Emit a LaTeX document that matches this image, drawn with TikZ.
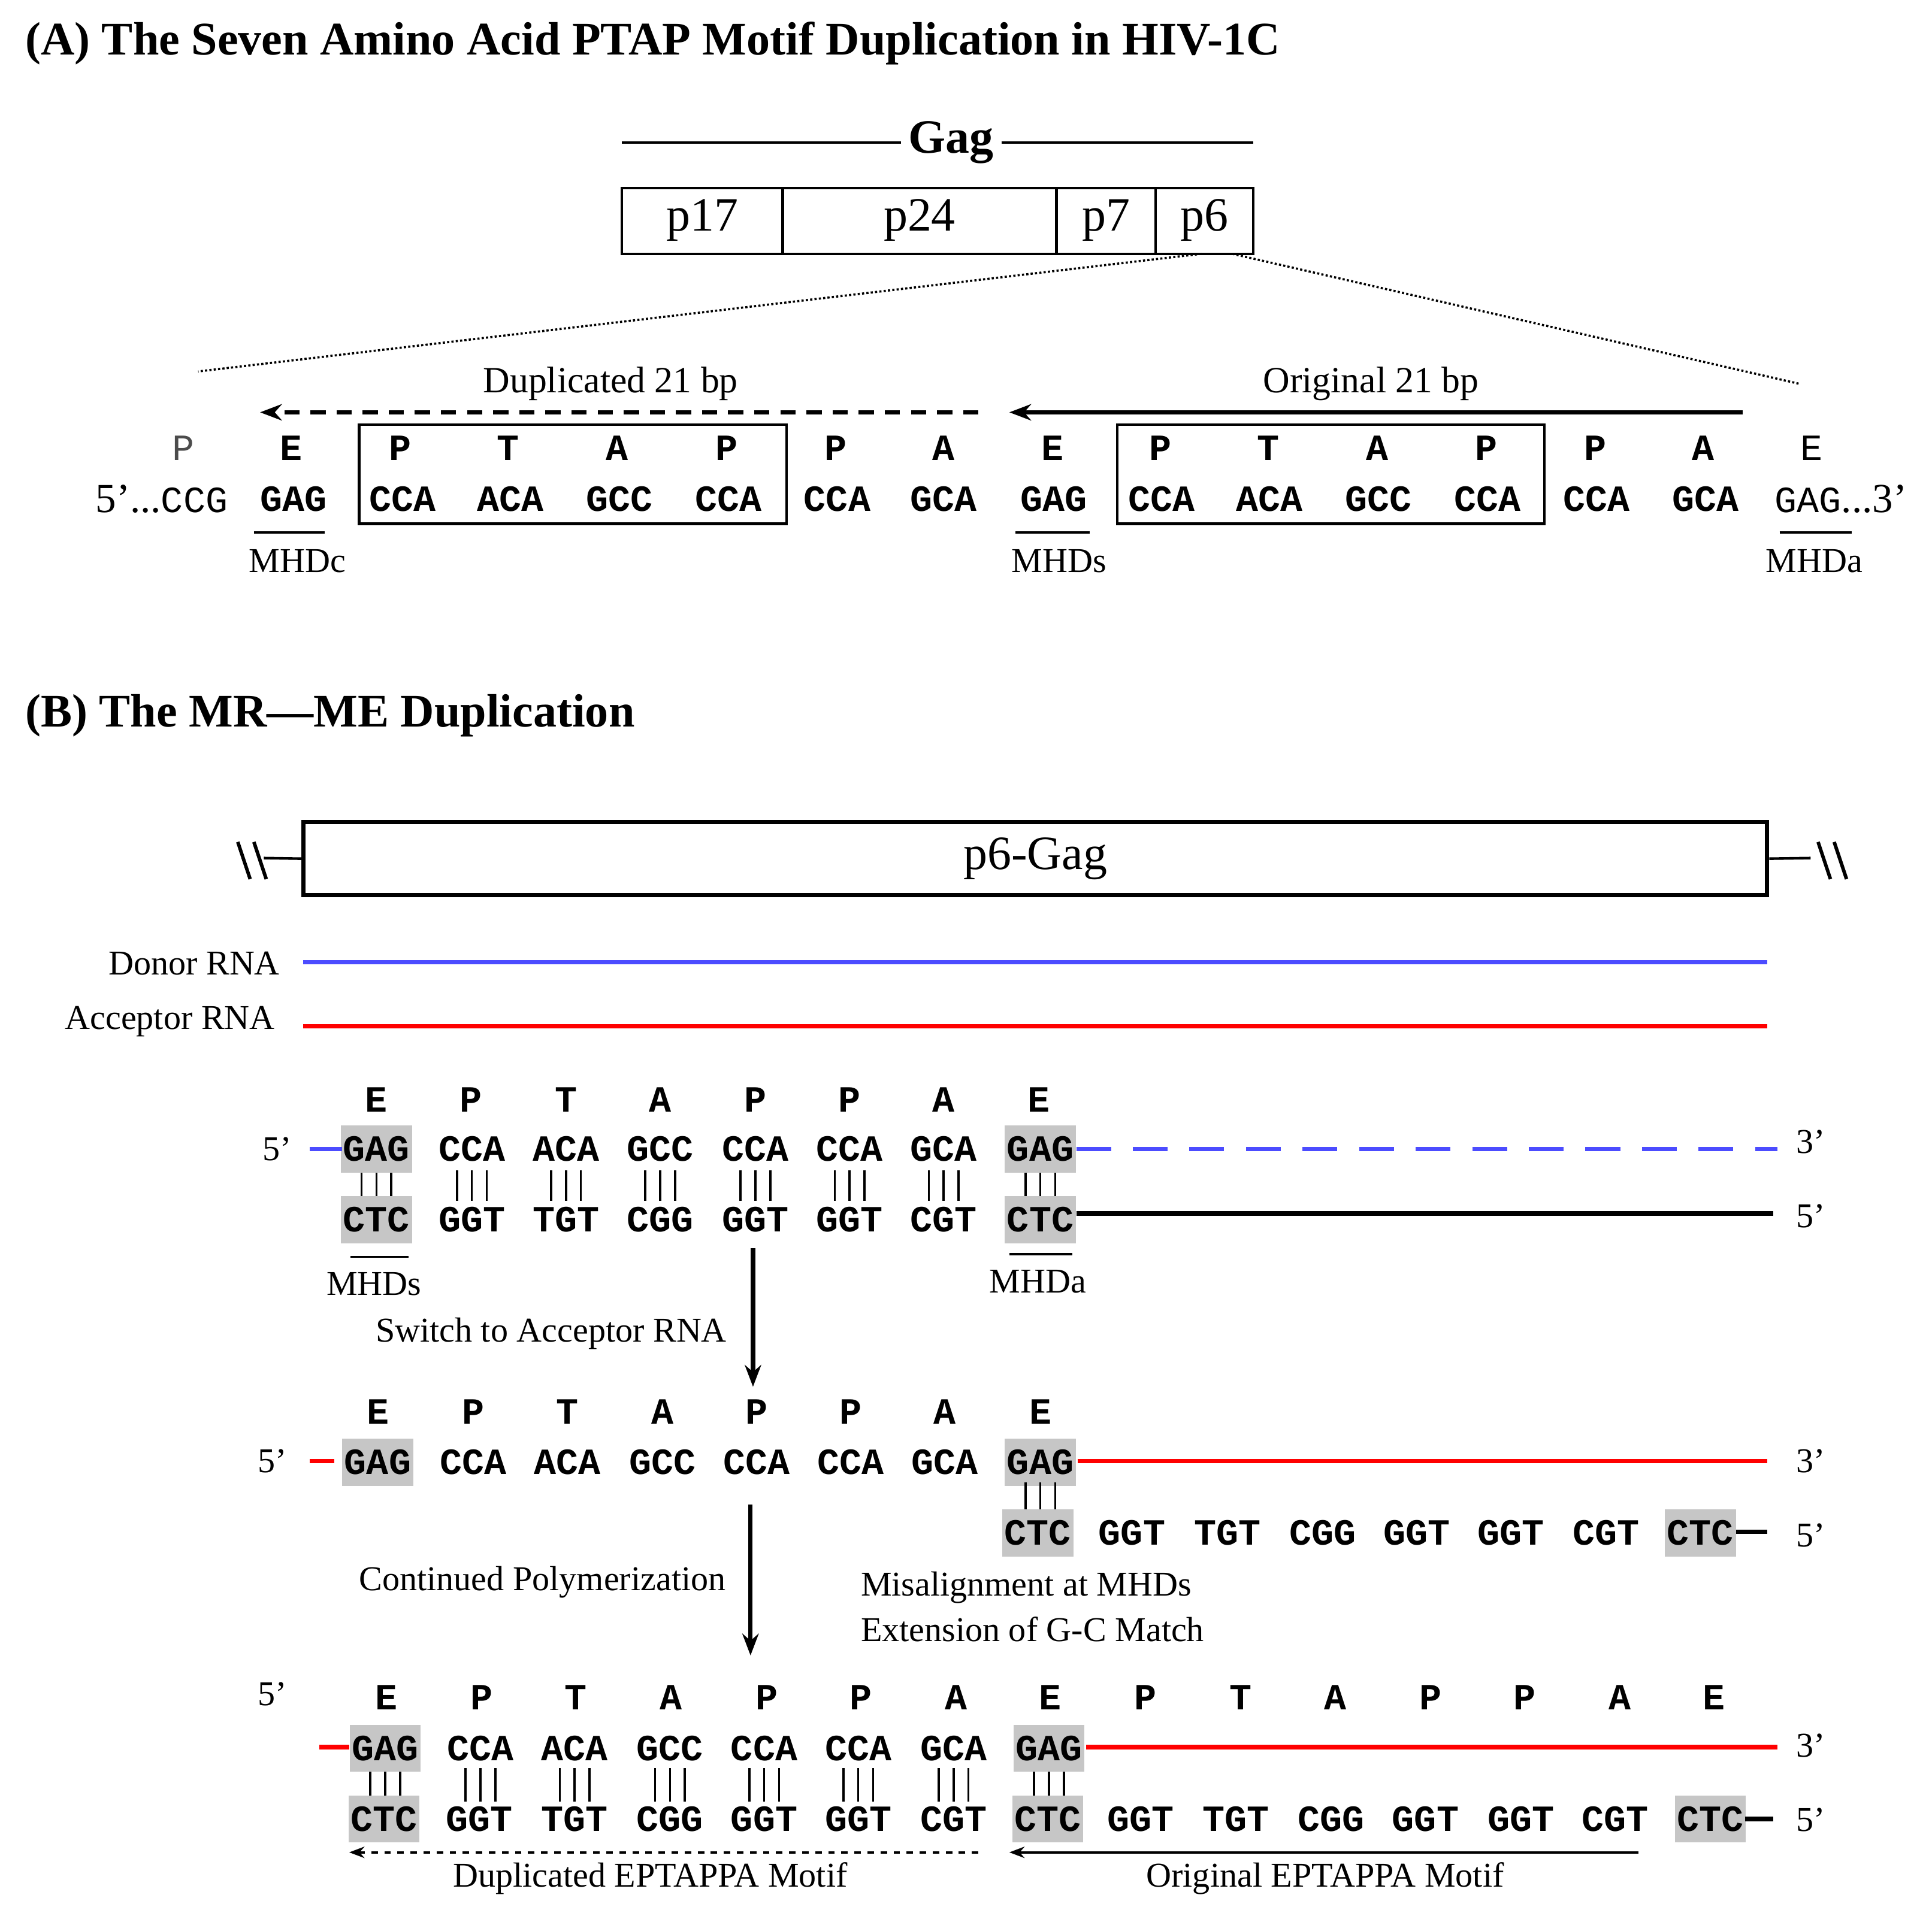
\documentclass[tikz,border=0pt]{standalone}
\usepackage{fontspec}
\setmainfont{Liberation Serif}
\newfontfamily\mono{Liberation Mono}
\usetikzlibrary{arrows.meta}
\begin{document}
\begin{tikzpicture}[x=0.02cm,y=-0.02cm,
 title/.style={font=\bfseries\fontsize{21.5}{24}\selectfont,anchor=west,inner sep=0},
 lab/.style={font=\fontsize{16}{18}\selectfont,inner sep=1pt},
 big/.style={font=\fontsize{22}{24}\selectfont,inner sep=0},
 cod/.style={font=\mono\bfseries\fontsize{17}{17}\selectfont,inner sep=1pt},
 codn/.style={font=\mono\fontsize{17}{17}\selectfont,inner sep=1pt},
 gc/.style={cod,fill=gray!45,minimum width=1.14cm,minimum height=0.76cm},
 bar/.style={line width=1pt},
 seg/.style={line width=1.2pt}]
\useasboundingbox (0,0) rectangle (1560,1547);
% ---------- Panel A
\node[title] (ta) at (20,35) {(A) The Seven Amino Acid PTAP Motif Duplication in HIV-1C};
\node[font=\bfseries\fontsize{22}{24}\selectfont] (gag) at (768,115) {Gag};
\coordinate (g1) at (502,115); \coordinate (g3) at (1012,115);
\draw[seg] (g1) -- (gag.west); \draw[seg] (gag.east) -- (g3);
\foreach \a/\b/\t/\n in {502/632/p17/b1,632/853/p24/b2,853/933/p7/b3,933/1012/p6/b4}
 {\draw[seg] (\a,152) rectangle (\b,205); \node[big] (\n) at ({(\a+\b)/2},178) {\t};}
\coordinate (z1) at (970,205); \coordinate (z2) at (160,300);
\coordinate (z3) at (995,205); \coordinate (z4) at (1453,310);
\draw[densely dotted,line width=1pt] (z1) -- (z2);
\draw[densely dotted,line width=1pt] (z3) -- (z4);
\coordinate (d1) at (790,333); \coordinate (d2) at (210,333);
\coordinate (o1) at (1407,333); \coordinate (o2) at (815,333);
\draw[dash pattern=on 7pt off 5pt,line width=1.8pt,-{Stealth[length=10pt]}] (d1) -- (d2);
\draw[line width=1.8pt,-{Stealth[length=10pt]}] (o1) -- (o2);
\node[lab,font=\fontsize{17}{18}\selectfont] (dl) at (493,310) {Duplicated 21 bp};
\node[lab,font=\fontsize{17}{18}\selectfont] (ol) at (1107,310) {Original 21 bp};
\node[codn,text=gray!60!black] (aa0) at (148,362) {P};
\foreach \x/\t [count=\i] in {235/E,323/P,410/T,498/A,587/P,675/P,762/A,850/E,937/P,1024/T,1112/A,1200/P,1288/P,1375/A}
 \node[cod] (aa\i) at (\x,362) {\t};
\node[codn] (aa15) at (1463,362) {E};
\node[anchor=east,inner sep=1pt] (c0) at (186,403) {\fontsize{19}{19}\selectfont 5’...\mono\fontsize{17}{17}\selectfont CCG};
\foreach \x/\t [count=\i] in {237/GAG,325/CCA,412/ACA,500/GCC,588/CCA,676/CCA,762/GCA,851/GAG,938/CCA,1025/ACA,1113/GCC,1201/CCA,1289/CCA,1377/GCA}
 \node[cod] (c\i) at (\x,403) {\t};
\node[anchor=west,inner sep=1pt] (c15) at (1431,403) {\mono\fontsize{17}{17}\selectfont GAG\rmfamily\fontsize{19}{19}\selectfont...3’};
\draw[seg] (290,343) rectangle (635,423);
\draw[seg] (902,343) rectangle (1247,423);
\foreach \a/\b/\t/\m in {205/262/MHDc/240,820/880/MHDs/855,1437/1495/MHDa/1465}
 {\draw[line width=1pt] (\a,430) -- (\b,430); \node[lab] (m\t) at (\m,453) {\t};}
% ---------- Panel B
\node[title] (tb) at (20,578) {(B) The MR—ME Duplication};
\node[draw,line width=2pt,minimum width=23.64cm,minimum height=1.18cm,big] (p6) at (836,693.5) {p6-Gag};
\coordinate (l1) at (213,693); \coordinate (r1) at (1462,693);
\draw[seg] (l1) -- (p6.west); \draw[seg] (p6.east) -- (r1);
\foreach \x in {192,205,1468,1481} \draw[line width=1.6pt] (\x,680) -- (\x+10,710);
\node[lab,anchor=east] (don) at (228,778) {Donor RNA};
\node[lab,anchor=east] (acc) at (224,825) {Acceptor RNA};
\coordinate (bl1) at (245,777); \coordinate (bl2) at (1427,777);
\coordinate (rl1) at (245,829); \coordinate (rl2) at (1427,829);
\draw[blue!70!white,line width=2pt] (bl1) -- (bl2);
\draw[red,line width=2pt] (rl1) -- (rl2);
% step 1
\foreach \x/\t [count=\i] in {304/E,380/P,457/T,533/A,610/P,686/P,762/A,839/E}
 \node[cod] (s1a\i) at (\x,888) {\t};
\foreach \x/\t/\b [count=\i] in {304/GAG/CTC,381/CCA/GGT,457/ACA/TGT,533/GCC/CGG,610/CCA/GGT,686/CCA/GGT,762/GCA/CGT,840/GAG/CTC}
 {\node[cod] (s1c\i) at (\x,928) {\t}; \node[cod] (s1b\i) at (\x,985) {\b};
  \foreach \d in {-12,0,12} \draw[bar] (\x+\d,945) -- (\x+\d,970);}
\node[gc] at (304,928) {GAG}; \node[gc] at (840,928) {GAG};
\node[gc] at (304,985) {CTC}; \node[gc] at (840,985) {CTC};
\node[lab] (s1p5) at (224,928) {5’};
\draw[blue!70!white,line width=2pt] (250,928) -- (276,928);
\coordinate (s1e) at (1435,928);
\draw[blue!70!white,line width=2pt,dash pattern=on 16pt off 10pt] (869,928) -- (s1e);
\node[lab] (s1p3) at (1462,922) {3’};
\coordinate (s1k) at (1432,980);
\draw[line width=2pt] (869,980) -- (s1k);
\node[lab] (s1p5b) at (1462,982) {5’};
\draw[line width=1pt] (283,1015) -- (330,1015); \node[lab] (ms) at (302,1037) {MHDs};
\draw[line width=1pt] (815,1013) -- (866,1013); \node[lab] (ma) at (838,1035) {MHDa};
\coordinate (ar1) at (608,1008); \coordinate (ar2) at (608,1120);
\draw[line width=2pt,-{Stealth[length=10pt]}] (ar1) -- (ar2);
\node[lab] (sw) at (445,1077) {Switch to Acceptor RNA};
% step 2
\foreach \x/\t [count=\i] in {305/E,382/P,458/T,535/A,611/P,687/P,763/A,840/E}
 \node[cod] (s2a\i) at (\x,1140) {\t};
\foreach \x/\t [count=\i] in {305/GAG,382/CCA,458/ACA,535/GCC,611/CCA,687/CCA,763/GCA,840/GAG}
 \node[cod] (s2c\i) at (\x,1181) {\t};
\node[gc] at (305,1181) {GAG}; \node[gc] at (840,1181) {GAG};
\node[lab] (s2p5) at (220,1180) {5’};
\draw[red,line width=2pt] (250,1180) -- (270,1180);
\coordinate (s2e) at (1427,1180);
\draw[red,line width=2pt] (870,1180) -- (s2e);
\node[lab] (s2p3) at (1462,1180) {3’};
\foreach \d in {-12,0,12} \draw[bar] (840+\d,1197) -- (840+\d,1222);
\foreach \x/\t [count=\i] in {838/CTC,914/GGT,991/TGT,1068/CGG,1144/GGT,1220/GGT,1297/CGT,1373/CTC}
 \node[cod] (s2b\i) at (\x,1238) {\t};
\node[gc] at (838,1238) {CTC}; \node[gc] at (1373,1238) {CTC};
\coordinate (s2k) at (1427,1237);
\draw[line width=2pt] (1402,1237) -- (s2k);
\node[lab] (s2p5b) at (1462,1240) {5’};
\coordinate (ar3) at (606,1215); \coordinate (ar4) at (606,1337);
\draw[line width=2pt,-{Stealth[length=10pt]}] (ar3) -- (ar4);
\node[lab] (cp) at (438,1278) {Continued Polymerization};
\node[lab,anchor=west] (mis) at (693,1282) {Misalignment at MHDs};
\node[lab,anchor=west] (ext) at (693,1316) {Extension of G-C Match};
% step 3
\node[lab] (s3p5) at (220,1368) {5’};
\foreach \x/\t [count=\i] in {312/E,389/P,465/T,542/A,619/P,695/P,772/A,848/E,925/P,1002/T,1078/A,1155/P,1231/P,1308/A,1384/E}
 \node[cod] (s3a\i) at (\x,1371) {\t};
\foreach \x/\t [count=\i] in {311/GAG,388/CCA,464/ACA,541/GCC,617/CCA,693/CCA,770/GCA,847/GAG}
 {\node[cod] (s3c\i) at (\x,1412) {\t};
  \foreach \d in {-12,0,12} \draw[bar] (\x+\d,1428) -- (\x+\d,1455);}
\node[gc] at (311,1412) {GAG}; \node[gc] at (847,1412) {GAG};
\draw[red,line width=2pt] (258,1411) -- (282,1411);
\coordinate (s3e) at (1435,1411);
\draw[red,line width=2pt] (877,1411) -- (s3e);
\node[lab] (s3p3) at (1462,1410) {3’};
\foreach \x/\t [count=\i] in {310/CTC,387/GGT,464/TGT,541/CGG,617/GGT,693/GGT,770/CGT,846/CTC,921/GGT,998/TGT,1075/CGG,1151/GGT,1228/GGT,1304/CGT,1381/CTC}
 \node[cod] (s3b\i) at (\x,1469) {\t};
\node[gc] at (310,1469) {CTC}; \node[gc] at (846,1469) {CTC}; \node[gc] at (1381,1469) {CTC};
\coordinate (s3k) at (1432,1469);
\draw[line width=2pt] (1409,1469) -- (s3k);
\node[lab] (s3p5b) at (1462,1470) {5’};
\coordinate (e1) at (790,1496); \coordinate (e2) at (282,1496);
\coordinate (f1) at (1323,1496); \coordinate (f2) at (815,1496);
\draw[dashed,line width=1pt,-{Stealth[length=7pt]}] (e1) -- (e2);
\draw[line width=1pt,-{Stealth[length=7pt]}] (f1) -- (f2);
\node[lab] (dm) at (525,1517) {Duplicated EPTAPPA Motif};
\node[lab] (om) at (1070,1517) {Original EPTAPPA Motif};
\end{tikzpicture}
\end{document}
